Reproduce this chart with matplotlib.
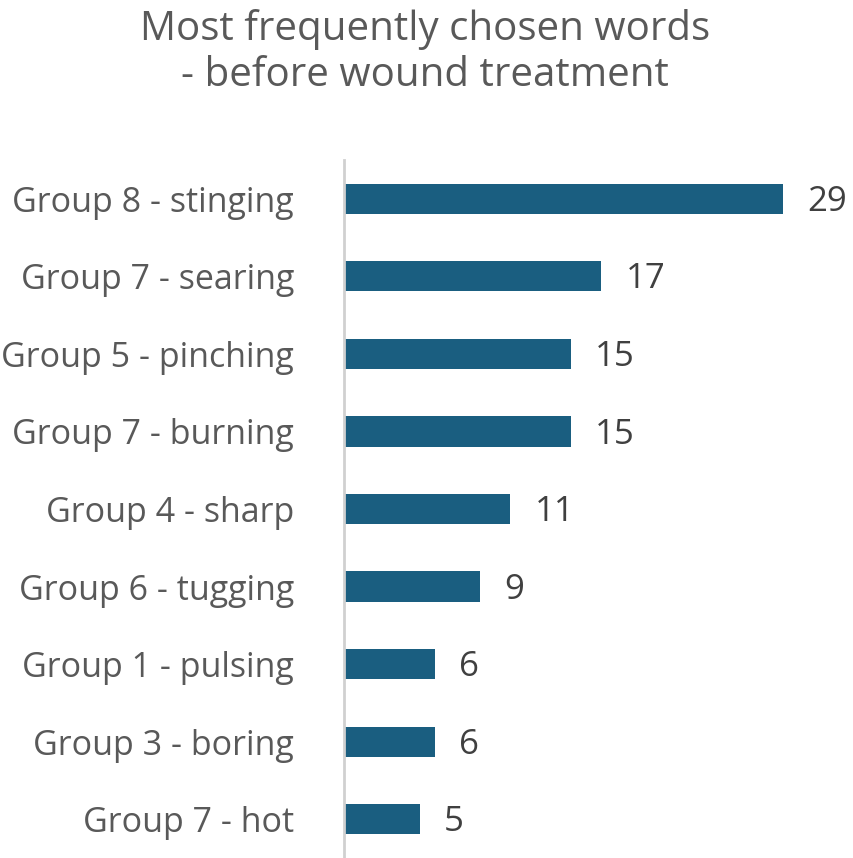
import matplotlib
matplotlib.use("Agg")
import matplotlib.pyplot as plt

labels = ["Group 8 - stinging", "Group 7 - searing", "Group 5 - pinching", "Group 7 - burning",
          "Group 4 - sharp", "Group 6 - tugging", "Group 1 - pulsing", "Group 3 - boring", "Group 7 - hot"]
values = [29, 17, 15, 15, 11, 9, 6, 6, 5]

plt.rcParams['font.family'] = ['Open Sans', 'DejaVu Sans']
fig = plt.figure(figsize=(8.54, 8.58), dpi=100)
ax = fig.add_axes([344/854, 0.0, 0.59, (858-160)/858])
y = list(range(len(values)))
ax.barh(y, values, height=0.39, color="#1a5e80")
ax.set_ylim(len(values)-0.5, -0.5)
ax.set_xlim(0, 33.3)
for yi, v in zip(y, values):
    ax.text(v + 1.6, yi + 0.04, str(v), va="center", ha="left", fontsize=25, color="#404040")
ax.set_yticks(y)
ax.set_yticklabels(labels, fontsize=24.5, color="#595959")
ax.tick_params(axis="y", length=0, pad=36)
ax.set_xticks([])
for s in ["top", "right", "bottom"]:
    ax.spines[s].set_visible(False)
ax.spines["left"].set_color("#d0d0d0")
ax.spines["left"].set_linewidth(2)
fig.text(0.498, 0.99, "Most frequently chosen words\n- before wound treatment", ha="center", va="top",
         fontsize=29, color="#595959", linespacing=1.2)
fig.savefig("out.png", dpi=100)
